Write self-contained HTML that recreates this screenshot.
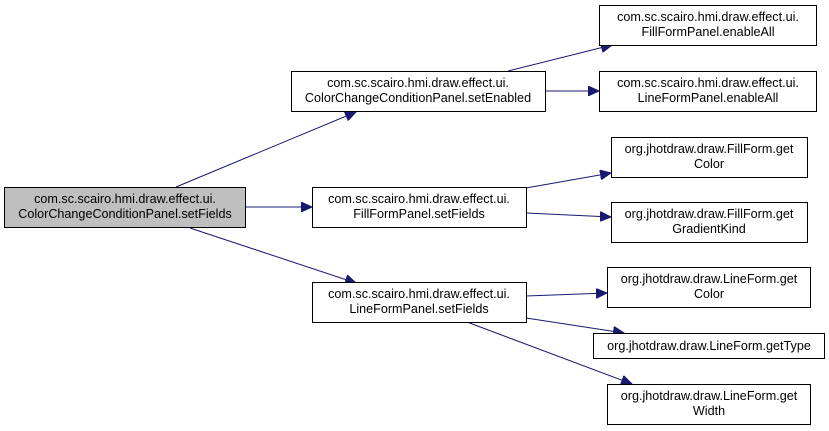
<!DOCTYPE html>
<html><head><meta charset="utf-8"><style>
body{margin:0;background:#fff}
svg{display:block}
text{font-family:"Liberation Sans",Arial,sans-serif;font-size:12.6px;fill:#000}
.b{fill:#fff;stroke:#000;stroke-width:1}
.e{stroke:#191970;stroke-width:1;fill:none}
.a{fill:#191970;stroke:#191970}
</style></head><body>
<svg width="829" height="431" viewBox="0 0 829 431" xmlns="http://www.w3.org/2000/svg">
<defs><marker id="m" markerWidth="12" markerHeight="10" refX="11" refY="5" orient="auto" markerUnits="userSpaceOnUse"><path d="M0,0 L11,5 L0,10 z" class="a"/></marker></defs>
<g class="e" marker-end="url(#m)">
<line x1="176" y1="187" x2="356" y2="112"/>
<line x1="246" y1="207" x2="312" y2="207"/>
<line x1="190" y1="228" x2="356" y2="283"/>
<line x1="508" y1="71" x2="612" y2="45"/>
<line x1="545" y1="91" x2="599" y2="91"/>
<line x1="526" y1="188" x2="611" y2="173"/>
<line x1="526" y1="213" x2="611" y2="217"/>
<line x1="526" y1="296" x2="607" y2="293"/>
<line x1="526" y1="318" x2="624" y2="333"/>
<line x1="467" y1="322" x2="632" y2="384"/>
</g>
<rect x="4.5" y="187.5" width="241" height="40" style="fill:#bfbfbf;stroke:#000"/>
<text x="125" y="203" text-anchor="middle">com.sc.scairo.hmi.draw.effect.ui.</text>
<text x="125" y="218" text-anchor="middle">ColorChangeConditionPanel.setFields</text>
<rect class="b" x="291.5" y="71.5" width="254" height="40"/>
<text x="418" y="87" text-anchor="middle">com.sc.scairo.hmi.draw.effect.ui.</text>
<text x="418" y="102" text-anchor="middle">ColorChangeConditionPanel.setEnabled</text>
<rect class="b" x="312.5" y="187.5" width="214" height="40"/>
<text x="419" y="203" text-anchor="middle">com.sc.scairo.hmi.draw.effect.ui.</text>
<text x="419" y="218" text-anchor="middle">FillFormPanel.setFields</text>
<rect class="b" x="312.5" y="282.5" width="214" height="40"/>
<text x="419" y="298" text-anchor="middle">com.sc.scairo.hmi.draw.effect.ui.</text>
<text x="419" y="313" text-anchor="middle">LineFormPanel.setFields</text>
<rect class="b" x="599.5" y="5.5" width="217" height="40"/>
<text x="708" y="21" text-anchor="middle">com.sc.scairo.hmi.draw.effect.ui.</text>
<text x="708" y="36" text-anchor="middle">FillFormPanel.enableAll</text>
<rect class="b" x="599.5" y="71.5" width="217" height="40"/>
<text x="708" y="87" text-anchor="middle">com.sc.scairo.hmi.draw.effect.ui.</text>
<text x="708" y="102" text-anchor="middle">LineFormPanel.enableAll</text>
<rect class="b" x="611.5" y="137.5" width="196" height="40"/>
<text x="709" y="153" text-anchor="middle">org.jhotdraw.draw.FillForm.get</text>
<text x="709" y="168" text-anchor="middle">Color</text>
<rect class="b" x="611.5" y="202.5" width="196" height="40"/>
<text x="709" y="218" text-anchor="middle">org.jhotdraw.draw.FillForm.get</text>
<text x="709" y="233" text-anchor="middle">GradientKind</text>
<rect class="b" x="607.5" y="267.5" width="203" height="40"/>
<text x="709" y="283" text-anchor="middle">org.jhotdraw.draw.LineForm.get</text>
<text x="709" y="298" text-anchor="middle">Color</text>
<rect class="b" x="593.5" y="333.5" width="231" height="25"/>
<text x="709" y="350" text-anchor="middle">org.jhotdraw.draw.LineForm.getType</text>
<rect class="b" x="607.5" y="384.5" width="203" height="40"/>
<text x="709" y="400" text-anchor="middle">org.jhotdraw.draw.LineForm.get</text>
<text x="709" y="415" text-anchor="middle">Width</text>
</svg>
</body></html>
